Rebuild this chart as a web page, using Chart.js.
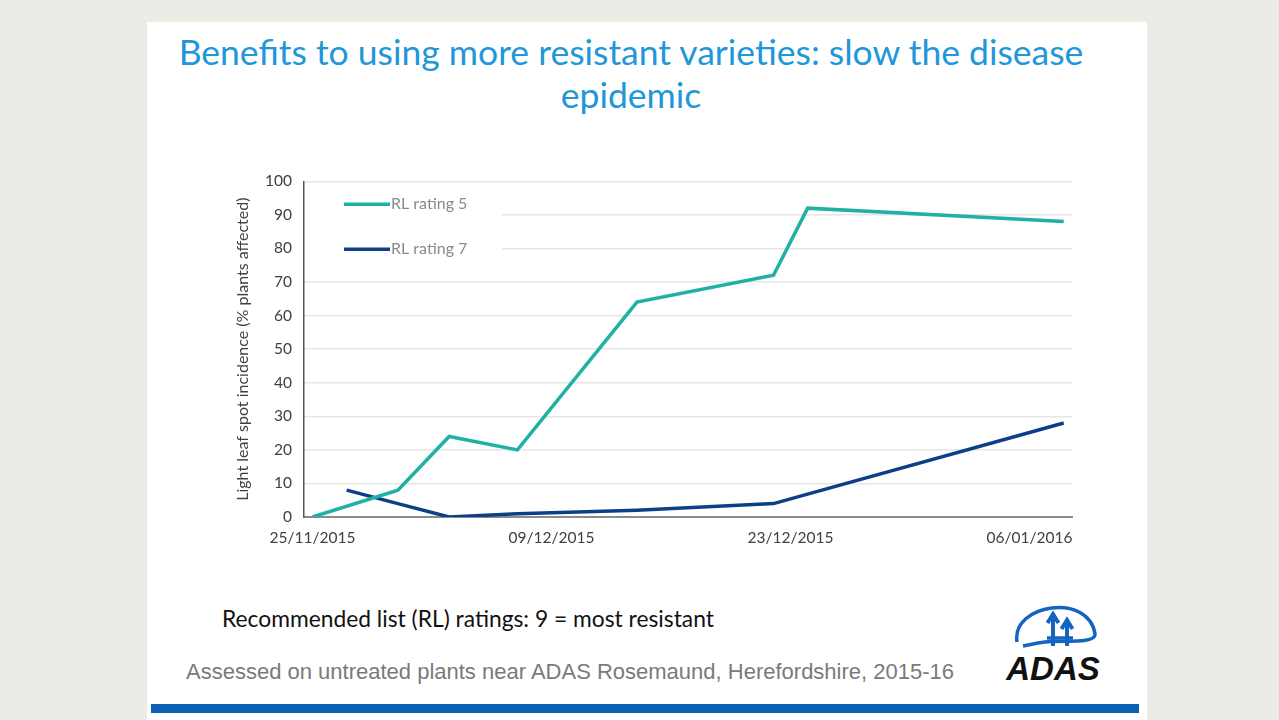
<!DOCTYPE html>
<html lang="en">
<head>
    <meta charset="UTF-8">
    <title>Benefits to using more resistant varieties</title>
    <script src="https://cdn.jsdelivr.net/npm/chart.js"></script>
    <style>
        body {
            margin: 0;
            width: 1279px;
            height: 720px;
            background-color: #ecebe6;
            font-family: 'Lato', sans-serif;
            overflow: hidden;
            position: relative;
        }

        .slide {
            position: absolute;
            left: 147px;
            top: 22px;
            width: 1000px;
            height: 698px;
            background-color: white;
        }

        h1 {
            position: absolute;
            left: 131px;
            top: 30px;
            width: 1000px;
            margin: 0;
            text-align: center;
            font-weight: 400;
            font-size: 35.5px;
            line-height: 43px;
            color: #2196d8;
        }

        .chart-box {
            position: absolute;
            left: 227px;
            top: 160px;
            width: 858px;
            height: 400px;
        }

        .note {
            position: absolute;
            left: 222px;
            top: 604px;
            font-size: 22.8px;
            color: #111;
        }

        .source {
            position: absolute;
            left: 186px;
            top: 659px;
            font-family: 'Liberation Sans', Arial, sans-serif;
            font-size: 22px;
            color: #7a7a7a;
        }

        .bar {
            position: absolute;
            left: 151px;
            top: 704px;
            width: 988px;
            height: 9px;
            background-color: #0b62b4;
        }

        .logo {
            position: absolute;
            left: 1003px;
            top: 592px;
            width: 100px;
            height: 92px;
        }
    </style>
</head>
<body>
    <div class="slide"></div>
    <h1>Benefits to using more resistant varieties: slow the disease<br>epidemic</h1>

    <div class="chart-box">
        <canvas id="lls"></canvas>
    </div>

    <div class="note">Recommended list (RL) ratings: 9 = most resistant</div>
    <div class="source">Assessed on untreated plants near ADAS Rosemaund, Herefordshire, 2015-16</div>
    <div class="bar"></div>

    <svg class="logo" viewBox="0 0 100 92">
        <path d="M14 50 C8 12, 86 0, 92 42 C93 52, 60 48, 42 50 C32 51, 26 53, 20 54" fill="none" stroke="#1565c0" stroke-width="3.5"/>
        <path d="M50 54 L50 24 M44.5 31 L50 22 L55.5 31" fill="none" stroke="#1565c0" stroke-width="4"/>
        <path d="M64 54 L64 30 M58.5 37 L64 28 L69.5 37" fill="none" stroke="#1565c0" stroke-width="4"/>
        <path d="M44 46 L70 46" stroke="#1565c0" stroke-width="3.5"/>
        <text x="50" y="88" text-anchor="middle" font-family="Liberation Sans, Arial, sans-serif" font-weight="700" font-style="italic" font-size="33" fill="#111">ADAS</text>
    </svg>

    <script>
        // dates of each assessment (dd/mm/yyyy) and % plants affected
        var rl5Dates = ['25/11/2015', '30/11/2015', '03/12/2015', '07/12/2015', '14/12/2015', '22/12/2015', '24/12/2015', '08/01/2016'];
        var rl5Values = [0, 8, 24, 20, 64, 72, 92, 88];

        var rl7Dates = ['27/11/2015', '30/11/2015', '03/12/2015', '07/12/2015', '14/12/2015', '22/12/2015', '08/01/2016'];
        var rl7Values = [8, 4, 0, 1, 2, 4, 28];

        var xTickLabels = ['25/11/2015', '09/12/2015', '23/12/2015', '06/01/2016'];
        var yTicks = [0, 10, 20, 30, 40, 50, 60, 70, 80, 90, 100];

        var seriesNames = ['RL rating 5', 'RL rating 7'];
        var seriesColors = ['#1fb1a4', '#0c3f88'];

        function toDay(s) {
            var p = s.split('/');
            return Date.UTC(+p[2], +p[1] - 1, +p[0]) / 86400000;
        }
        var day0 = toDay(xTickLabels[0]);
        function points(dates, values) {
            return dates.map(function (d, i) { return { x: toDay(d) - day0, y: values[i] }; });
        }
        var xTickDays = xTickLabels.map(function (d) { return toDay(d) - day0; });

        // legend sits inside the plot on a white box (hides gridlines behind it)
        var insideLegend = {
            id: 'insideLegend',
            beforeDatasetsDraw: function (chart) {
                var c = chart.ctx;
                var a = chart.chartArea;
                c.save();
                c.fillStyle = 'white';
                c.fillRect(a.left + 1, a.top + 5, 197, 80);
                c.font = '16px Lato';
                c.textBaseline = 'middle';
                for (var i = 0; i < seriesNames.length; i++) {
                    var y = a.top + 23 + i * 45;
                    c.strokeStyle = seriesColors[i];
                    c.lineWidth = 3.5;
                    c.beginPath();
                    c.moveTo(a.left + 40, y);
                    c.lineTo(a.left + 86, y);
                    c.stroke();
                    c.fillStyle = '#8a8a8a';
                    c.fillText(seriesNames[i], a.left + 87, y);
                }
                c.restore();
            }
        };

        var ctx = document.getElementById('lls').getContext('2d');
        var llsChart = new Chart(ctx, {
            type: 'line',
            data: {
                datasets: [{
                    label: seriesNames[0],
                    data: points(rl5Dates, rl5Values),
                    borderColor: seriesColors[0],
                    borderWidth: 3.5,
                    pointRadius: 0,
                    tension: 0
                }, {
                    label: seriesNames[1],
                    data: points(rl7Dates, rl7Values),
                    borderColor: seriesColors[1],
                    borderWidth: 3.5,
                    pointRadius: 0,
                    tension: 0
                }]
            },
            options: {
                responsive: true,
                maintainAspectRatio: false,
                animation: false,
                layout: {
                    padding: { top: 0, right: 8, left: 0, bottom: 0 }
                },
                plugins: {
                    legend: { display: false },
                    tooltip: { enabled: false }
                },
                scales: {
                    x: {
                        type: 'linear',
                        min: -0.5,
                        max: 44.5,
                        afterBuildTicks: function (s) {
                            s.ticks = xTickDays.map(function (v) { return { value: v }; });
                        },
                        afterFit: function (s) { s.height = 43; },
                        ticks: {
                            autoSkip: false,
                            maxRotation: 0,
                            padding: 12,
                            color: '#404040',
                            font: { family: 'Lato', size: 15.5 },
                            callback: function (v) {
                                return xTickLabels[xTickDays.indexOf(v)];
                            }
                        },
                        grid: { display: false, drawTicks: false },
                        border: { color: '#8c8c8c', width: 2 }
                    },
                    y: {
                        min: 0,
                        max: 100,
                        afterBuildTicks: function (s) {
                            s.ticks = yTicks.map(function (v) { return { value: v }; });
                        },
                        afterFit: function (s) { s.width = 77; },
                        ticks: {
                            padding: 12,
                            color: '#404040',
                            font: { family: 'Lato', size: 15.5 }
                        },
                        grid: { color: '#e6e6e6', lineWidth: 1.5, drawTicks: false },
                        border: { color: '#555555', width: 1.5 },
                        title: {
                            display: true,
                            text: 'Light leaf spot incidence (% plants affected)',
                            color: '#404040',
                            font: { family: 'Lato', size: 16 },
                            padding: { top: 6, bottom: 0 }
                        }
                    }
                }
            },
            plugins: [insideLegend]
        });
    </script>
</body>
</html>
